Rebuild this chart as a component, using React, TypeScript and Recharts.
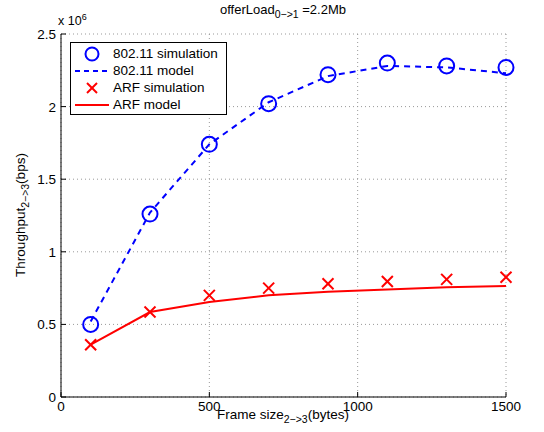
import React from "react";
import { ComposedChart, Line, XAxis, YAxis, CartesianGrid } from "recharts";

const frameSizes = [100, 300, 500, 700, 900, 1100, 1300, 1500];
const sim80211 = [0.5, 1.26, 1.74, 2.02, 2.22, 2.3, 2.28, 2.27];
const model80211 = [0.52, 1.27, 1.74, 2.03, 2.21, 2.28, 2.27, 2.23];
const simARF = [0.36, 0.585, 0.7, 0.75, 0.78, 0.795, 0.81, 0.825];
const modelARF = [0.36, 0.585, 0.655, 0.7, 0.725, 0.74, 0.755, 0.765];
const xTicks = [0, 500, 1000, 1500];
const yTicks = [0, 0.5, 1, 1.5, 2, 2.5];

const data = frameSizes.map((x, i) => ({
  x,
  sim80211: sim80211[i],
  model80211: model80211[i],
  simARF: simARF[i],
  modelARF: modelARF[i],
}));

const FONT = "'Liberation Sans', Arial, Helvetica, sans-serif";

const CircleDot = (props: any) => {
  const { cx, cy } = props;
  if (cx == null || cy == null) return null;
  return <circle cx={cx} cy={cy} r={7.5} fill="none" stroke="#0000ff" strokeWidth={2} />;
};
const CrossDot = (props: any) => {
  const { cx, cy } = props;
  if (cx == null || cy == null) return null;
  const s = 5.5;
  return (
    <g stroke="#ff0000" strokeWidth={2}>
      <line x1={cx - s} y1={cy - s} x2={cx + s} y2={cy + s} />
      <line x1={cx - s} y1={cy + s} x2={cx + s} y2={cy - s} />
    </g>
  );
};

const XTick = (props: any) => {
  const { x, y, payload } = props;
  return (
    <g>
      <line x1={x} y1={397} x2={x} y2={392} stroke="#000" strokeWidth={1} />
      <text x={x} y={y + 10} textAnchor="middle" fontSize={13.5} fontFamily={FONT} fill="#000">
        {payload.value}
      </text>
    </g>
  );
};
const YTick = (props: any) => {
  const { x, y, payload } = props;
  return (
    <g>
      <line x1={61} y1={y} x2={66} y2={y} stroke="#000" strokeWidth={1} />
      <text x={x} y={y + 5} textAnchor="end" fontSize={13.5} fontFamily={FONT} fill="#000">
        {payload.value}
      </text>
    </g>
  );
};

const legendItems = [
  { label: "802.11 simulation", kind: "circle" },
  { label: "802.11 model", kind: "dash" },
  { label: "ARF simulation", kind: "cross" },
  { label: "ARF model", kind: "line" },
];

const LegendIcon = ({ kind }: { kind: string }) => (
  <svg width={36} height={16} style={{ display: "block" }}>
    {kind === "circle" && <circle cx={18} cy={8} r={6.5} fill="none" stroke="#0000ff" strokeWidth={2} />}
    {kind === "dash" && <line x1={1} y1={8} x2={35} y2={8} stroke="#0000ff" strokeWidth={2} strokeDasharray="5 4" />}
    {kind === "cross" && (
      <g stroke="#ff0000" strokeWidth={2}>
        <line x1={13} y1={3} x2={23} y2={13} />
        <line x1={13} y1={13} x2={23} y2={3} />
      </g>
    )}
    {kind === "line" && <line x1={1} y1={8} x2={35} y2={8} stroke="#ff0000" strokeWidth={2} />}
  </svg>
);

export default function App() {
  return (
    <div style={{ position: "absolute", left: 0, top: 0, width: 544, height: 432, background: "#fff", fontFamily: FONT }}>
      <ComposedChart
        width={544}
        height={432}
        data={data}
        margin={{ top: 34, right: 38, bottom: 0, left: 0 }}
      >
        <CartesianGrid stroke="#999" strokeDasharray="1 3" horizontal vertical />
        <XAxis
          dataKey="x"
          type="number"
          domain={[0, 1500]}
          ticks={xTicks}
          interval={0}
          height={35}
          tickLine={false}
          tickSize={0}
          tickMargin={4}
          stroke="#000"
          tick={<XTick />}
        />
        <YAxis
          type="number"
          domain={[0, 2.5]}
          ticks={yTicks}
          interval={0}
          width={61}
          tickLine={false}
          tickSize={0}
          tickMargin={5}
          stroke="#000"
          tick={<YTick />}
        />
        <Line dataKey="model80211" stroke="#0000ff" strokeWidth={2} strokeDasharray="6 5" dot={false} isAnimationActive={false} type="linear" />
        <Line dataKey="modelARF" stroke="#ff0000" strokeWidth={2} dot={false} isAnimationActive={false} type="linear" />
        <Line dataKey="sim80211" stroke="none" dot={<CircleDot />} activeDot={false} isAnimationActive={false} />
        <Line dataKey="simARF" stroke="none" dot={<CrossDot />} activeDot={false} isAnimationActive={false} />
      </ComposedChart>

      <div style={{ position: "absolute", left: 0, width: 544, top: 2, textAlign: "center", fontSize: 13, paddingLeft: 22, boxSizing: "border-box" }}>
        offerLoad<span style={{ fontSize: 10.5, position: "relative", top: 4 }}>0−&gt;1</span> =2.2Mb
      </div>
      <div style={{ position: "absolute", left: 58, top: 14, fontSize: 12.5 }}>
        x 10<span style={{ fontSize: 9, position: "relative", top: -5 }}>6</span>
      </div>
      <div style={{ position: "absolute", left: 0, width: 544, top: 407, textAlign: "center", fontSize: 13.5, paddingLeft: 22, boxSizing: "border-box" }}>
        Frame size<span style={{ fontSize: 10.5, position: "relative", top: 4 }}>2−&gt;3</span>(bytes)
      </div>
      <div
        style={{
          position: "absolute",
          left: 20,
          top: 215,
          fontSize: 13.5,
          whiteSpace: "nowrap",
          transform: "translate(-50%, -50%) rotate(-90deg)",
        }}
      >
        Throughput<span style={{ fontSize: 10.5, position: "relative", top: 4 }}>2−&gt;3</span>(bps)
      </div>

      <div
        style={{
          position: "absolute",
          left: 70,
          top: 42,
          width: 157,
          height: 73,
          border: "1px solid #000",
          background: "#fff",
          boxSizing: "border-box",
          paddingTop: 2,
        }}
      >
        {legendItems.map((it) => (
          <div key={it.label} style={{ display: "flex", alignItems: "center", height: 17, fontSize: 13.5 }}>
            <div style={{ marginLeft: 3, marginRight: 3 }}>
              <LegendIcon kind={it.kind} />
            </div>
            <span>{it.label}</span>
          </div>
        ))}
      </div>
    </div>
  );
}
